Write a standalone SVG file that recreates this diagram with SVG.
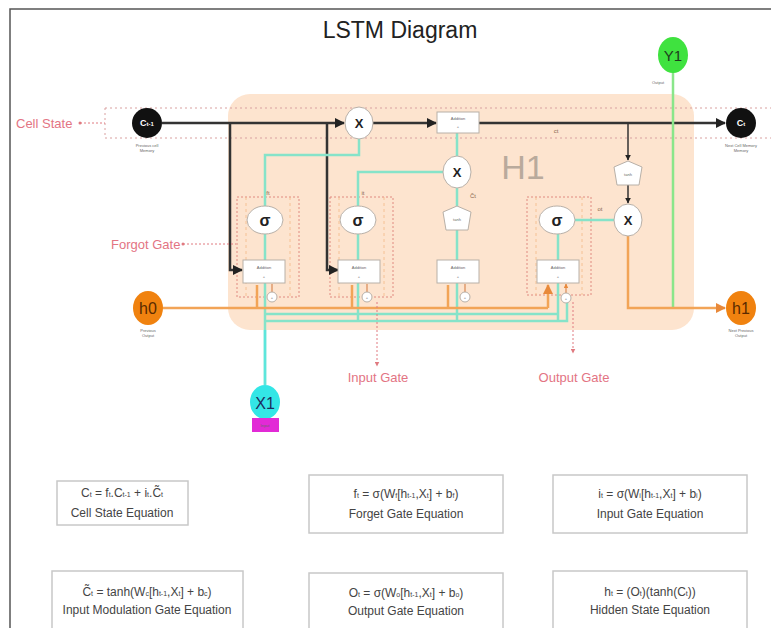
<svg xmlns="http://www.w3.org/2000/svg" width="771" height="628" viewBox="0 0 771 628">
<style>
text{font-family:"Liberation Sans",Arial,sans-serif}
.lbl{fill:#e37483;font-size:13px}
.tiny{fill:#666;font-size:4px;text-anchor:middle}
.sm{fill:#8a6a50;font-size:6px;text-anchor:middle}
.op{fill:#fff;stroke:#b8b0a8;stroke-width:1}
.xt{font-size:13px;font-weight:bold;fill:#222;text-anchor:middle}
.gate{fill:none;stroke:#e08a80;stroke-width:1;stroke-dasharray:2 2}
.eq{fill:#fff;stroke:#c8c8c8;stroke-width:1.5}
.eqt{fill:#444;font-size:12px;text-anchor:middle}
.sub{font-size:7px}
.blk{fill:none;stroke:#333;stroke-width:2.5}
.org{fill:none;stroke:#f2a457;stroke-width:2.5}
.teal{fill:none;stroke:#86e3c9;stroke-width:2.5}
.dot{fill:none;stroke:#d9a0a0;stroke-width:1;stroke-dasharray:2 3}
.rdot{fill:none;stroke:#e07a80;stroke-width:1;stroke-dasharray:2 2}
.sig{font-size:16px;font-weight:bold;fill:#222;text-anchor:middle}
</style>
<defs>
<marker id="ab" viewBox="0 0 10 10" refX="9" refY="5" markerWidth="4" markerHeight="4" orient="auto"><path d="M0,0L10,5L0,10z" fill="#222"/></marker>
<marker id="ao" viewBox="0 0 10 10" refX="9" refY="5" markerWidth="4" markerHeight="4" orient="auto"><path d="M0,0L10,5L0,10z" fill="#e8893a"/></marker>
<marker id="ar" viewBox="0 0 10 10" refX="9" refY="5" markerWidth="5" markerHeight="5" orient="auto"><path d="M0,0L10,5L0,10z" fill="#e07a80"/></marker>
</defs>
<rect width="771" height="628" fill="#fff"/>
<path d="M10,628V9H771" fill="none" stroke="#555" stroke-width="1.5"/>
<text x="400" y="38" font-size="23" fill="#222" text-anchor="middle">LSTM Diagram</text>

<g id="h1-block">
<rect x="228" y="94" width="466" height="236" rx="22" fill="#fde4cf"/>
<text x="523" y="179" font-size="34" fill="#b9aa9c" text-anchor="middle">H1</text>
</g>

<g id="cell-state-band">
<path class="dot" d="M105,108H771M105,138H771M105,108V138"/>
<text class="lbl" x="16" y="128">Cell State</text>
<path class="rdot" d="M80,123H105"/>
<circle cx="80" cy="123" r="1.5" fill="#e07a80"/>
</g>

<g id="gate-boxes">
<rect class="gate" x="237" y="197" width="62" height="100"/>
<rect class="gate" x="330" y="197" width="63" height="100"/>
<rect class="gate" x="527" y="197" width="64" height="98"/>
<path d="M246,197V297M290,197V297M339,197V297M384,197V297M536,197V295M582,197V295" fill="none" stroke="#f3b785" stroke-width="0.8" stroke-dasharray="3 3"/>
</g>

<g id="connectors">
<path class="blk" d="M162,123H344" marker-end="url(#ab)"/>
<path class="blk" d="M373,123H436" marker-end="url(#ab)"/>
<path class="blk" d="M479,123H725" marker-end="url(#ab)"/>
<path class="blk" d="M230,123V270H242" marker-end="url(#ab)"/>
<path class="blk" d="M327,123V270H338" marker-end="url(#ab)"/>
<path d="M628,123V160" fill="none" stroke="#333" stroke-width="1.5" marker-end="url(#ab)"/>
<path d="M628,185V203" fill="none" stroke="#333" stroke-width="1.5" marker-end="url(#ab)"/>
<path d="M673,72V308" fill="none" stroke="#8ae68a" stroke-width="2.5"/>
<path class="teal" d="M265,385V283M265,260V234M265,206V155H359V139"/>
<path class="teal" d="M358,321V283M358,260V234M358,206V172H443"/>
<path class="teal" d="M457,321V283M457,260V230M457,207V188M457,156V133"/>
<path class="teal" d="M558,321V283M558,260V234M575,220H614"/>
<path class="teal" d="M265,314H558M265,321H567V300"/>
<path d="M265,330V385" fill="none" stroke="#5de6dc" stroke-width="2.5"/>
<path class="org" d="M163,308H548"/>
<path class="org" d="M257,308V285M352,308V285M448,308V285M548,308V285" stroke-width="2" marker-end="url(#ao)"/>
<path class="org" d="M628,236V308H725" marker-end="url(#ao)"/>
<path d="M272,292V284M367,292V284M465,292V284M566,293V284" fill="none" stroke="#d98a55" stroke-width="1.2" marker-end="url(#ao)"/>
<path class="rdot" d="M183,244H236"/>
<circle cx="183" cy="244" r="1.5" fill="#e07a80"/>
<path class="rdot" d="M377,302V366" marker-end="url(#ar)"/>
<path class="rdot" d="M573,302V353" marker-end="url(#ar)"/>
</g>

<g id="c-prev">
<circle cx="147" cy="123" r="15" fill="#111"/>
<text x="147" y="126" font-size="9" font-weight="bold" fill="#fff" text-anchor="middle">C<tspan font-size="6">t-1</tspan></text>
<text class="tiny" x="147" y="147">Previous cell</text>
<text class="tiny" x="147" y="152">Memory</text>
</g>
<g id="c-next">
<circle cx="741" cy="123" r="15" fill="#111"/>
<text x="741" y="126" font-size="9" font-weight="bold" fill="#fff" text-anchor="middle">C<tspan font-size="6">t</tspan></text>
<text class="tiny" x="741" y="147">Next Cell Memory</text>
<text class="tiny" x="741" y="152">Memory</text>
</g>
<g id="mult-forget">
<ellipse class="op" cx="359" cy="123" rx="14" ry="16"/>
<text class="xt" x="359" y="128">X</text>
</g>
<g id="add-cell">
<rect class="op" x="437" y="112" width="42" height="21"/>
<text class="tiny" x="458" y="120">Addition</text>
<text class="tiny" x="458" y="128">+</text>
</g>
<text class="sm" x="556" y="133">ct</text>
<g id="mult-input">
<ellipse class="op" cx="457" cy="172" rx="14" ry="16"/>
<text class="xt" x="457" y="177">X</text>
</g>
<text class="sm" x="473" y="198">C̃t</text>
<g id="tanh-cell">
<path class="op" d="M443,212L457,206L471,212L468,230H446Z"/>
<text class="tiny" x="457" y="221" font-size="6">tanh</text>
</g>
<g id="tanh-out">
<path class="op" d="M614,167L628,161L642,167L639,185H617Z"/>
<text class="tiny" x="628" y="176" font-size="6">tanh</text>
</g>
<g id="mult-output">
<ellipse class="op" cx="628" cy="220" rx="14" ry="16"/>
<text class="xt" x="628" y="225">X</text>
</g>
<text class="sm" x="600" y="211">ot</text>

<g id="sigma-forget">
<ellipse class="op" cx="265" cy="220" rx="18" ry="14"/>
<text class="sig" x="265" y="226">σ</text>
<text class="sm" x="268" y="195">ft</text>
</g>
<g id="sigma-input">
<ellipse class="op" cx="358" cy="220" rx="18" ry="14"/>
<text class="sig" x="358" y="226">σ</text>
<text class="sm" x="363" y="195">it</text>
</g>
<g id="sigma-output">
<ellipse class="op" cx="557" cy="220" rx="18" ry="14"/>
<text class="sig" x="557" y="226">σ</text>
</g>

<g id="add-forget"><rect class="op" x="243" y="260" width="42" height="23"/><text class="tiny" x="264" y="269">Addition</text><text class="tiny" x="264" y="278">+</text></g>
<g id="add-input"><rect class="op" x="338" y="260" width="42" height="23"/><text class="tiny" x="359" y="269">Addition</text><text class="tiny" x="359" y="278">+</text></g>
<g id="add-tanh"><rect class="op" x="437" y="260" width="42" height="23"/><text class="tiny" x="458" y="269">Addition</text><text class="tiny" x="458" y="278">+</text></g>
<g id="add-output"><rect class="op" x="537" y="260" width="42" height="23"/><text class="tiny" x="558" y="269">Addition</text><text class="tiny" x="558" y="278">+</text></g>

<g id="bias">
<circle class="op" cx="272" cy="297" r="5"/><circle class="op" cx="367" cy="297" r="5"/><circle class="op" cx="465" cy="297" r="5"/><circle class="op" cx="566" cy="298" r="5"/>
<text class="tiny" x="272" y="299" font-size="6">+</text><text class="tiny" x="367" y="299" font-size="6">+</text><text class="tiny" x="465" y="299" font-size="6">+</text><text class="tiny" x="566" y="300" font-size="6">+</text>
</g>

<g id="y1">
<ellipse cx="673" cy="55" rx="15" ry="18" fill="#3fe23f"/>
<text x="673" y="61" font-size="15" fill="#1d3d1d" text-anchor="middle">Y1</text>
<text class="tiny" x="658" y="84">Output</text>
</g>
<g id="h0">
<ellipse cx="148" cy="308" rx="15" ry="17" fill="#f0820f"/>
<text x="148" y="314" font-size="16" fill="#5a2a00" text-anchor="middle">h0</text>
<text class="tiny" x="148" y="332">Previous</text>
<text class="tiny" x="148" y="337">Output</text>
</g>
<g id="h1">
<ellipse cx="741" cy="308" rx="15" ry="17" fill="#f0820f"/>
<text x="741" y="314" font-size="16" fill="#5a2a00" text-anchor="middle">h1</text>
<text class="tiny" x="741" y="332">Next Previous</text>
<text class="tiny" x="741" y="337">Output</text>
</g>
<g id="x1">
<ellipse cx="265" cy="402" rx="15" ry="17" fill="#33e6e6"/>
<text x="265" y="409" font-size="16" fill="#1c2c5c" text-anchor="middle">X1</text>
<rect x="252" y="418" width="27" height="14" fill="#e22ad6"/>
<text class="tiny" x="265" y="427" fill="#fff">Input</text>
</g>

<g id="labels">
<text class="lbl" x="111" y="249">Forgot Gate</text>
<text class="lbl" x="378" y="382" text-anchor="middle">Input Gate</text>
<text class="lbl" x="574" y="382" text-anchor="middle">Output Gate</text>
</g>

<g id="eq-cell">
<rect class="eq" x="57" y="481" width="131" height="44"/>
<text class="eqt" x="122" y="497">C<tspan class="sub">t</tspan> = f<tspan class="sub">t</tspan>.C<tspan class="sub">t-1</tspan> + i<tspan class="sub">t</tspan>.C̃<tspan class="sub">t</tspan></text>
<text class="eqt" x="122" y="517">Cell State Equation</text>
</g>
<g id="eq-forget">
<rect class="eq" x="309" y="475" width="194" height="58"/>
<text class="eqt" x="406" y="498">f<tspan class="sub">t</tspan> = σ(W<tspan class="sub">f</tspan>[h<tspan class="sub">t-1</tspan>,X<tspan class="sub">t</tspan>] + b<tspan class="sub">f</tspan>)</text>
<text class="eqt" x="406" y="518">Forget Gate Equation</text>
</g>
<g id="eq-input">
<rect class="eq" x="553" y="475" width="194" height="58"/>
<text class="eqt" x="650" y="498">i<tspan class="sub">t</tspan> = σ(W<tspan class="sub">i</tspan>[h<tspan class="sub">t-1</tspan>,X<tspan class="sub">t</tspan>] + b<tspan class="sub">i</tspan>)</text>
<text class="eqt" x="650" y="518">Input Gate Equation</text>
</g>
<g id="eq-modulation">
<rect class="eq" x="52" y="571" width="191" height="70"/>
<text class="eqt" x="147" y="596">C̃<tspan class="sub">t</tspan> = tanh(W<tspan class="sub">c</tspan>[h<tspan class="sub">t-1</tspan>,X<tspan class="sub">t</tspan>] + b<tspan class="sub">c</tspan>)</text>
<text class="eqt" x="147" y="614">Input Modulation Gate Equation</text>
</g>
<g id="eq-output">
<rect class="eq" x="309" y="573" width="194" height="70"/>
<text class="eqt" x="406" y="597">O<tspan class="sub">t</tspan> = σ(W<tspan class="sub">o</tspan>[h<tspan class="sub">t-1</tspan>,X<tspan class="sub">t</tspan>] + b<tspan class="sub">o</tspan>)</text>
<text class="eqt" x="406" y="615">Output Gate Equation</text>
</g>
<g id="eq-hidden">
<rect class="eq" x="553" y="571" width="194" height="70"/>
<text class="eqt" x="650" y="596">h<tspan class="sub">t</tspan> = (O<tspan class="sub">t</tspan>)(tanh(C<tspan class="sub">t</tspan>))</text>
<text class="eqt" x="650" y="614">Hidden State Equation</text>
</g>
</svg>
